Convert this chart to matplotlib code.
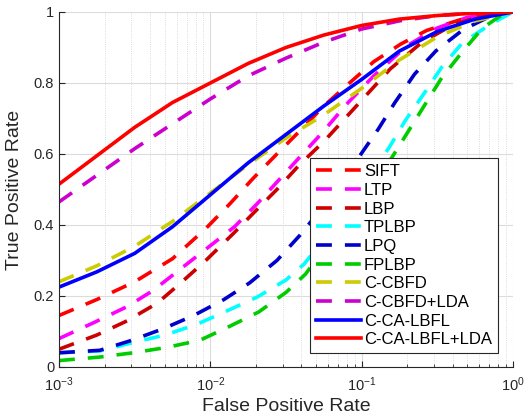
import numpy as np
import matplotlib
matplotlib.use('Agg')
import matplotlib.pyplot as plt

plt.rcParams['font.family'] = ['Liberation Sans', 'DejaVu Sans']
plt.rcParams['mathtext.fontset'] = 'custom'
plt.rcParams['mathtext.rm'] = 'Liberation Sans'

# ROC curves: log10(FPR) -> TPR
sift_x = [-3, -2.75, -2.5, -2.25, -2.03, -1.87, -1.72, -1.56, -1.42, -1.25, -1.08, -0.92, -0.74, -0.57, -0.35, -0.15, 0]
sift_y = [0.145, 0.19, 0.24, 0.305, 0.39, 0.46, 0.53, 0.60, 0.66, 0.735, 0.80, 0.86, 0.91, 0.948, 0.978, 0.995, 1.0]

ltp_x = [-3, -2.77, -2.55, -2.38, -2.2, -2.02, -1.84, -1.69, -1.54, -1.39, -1.26, -1.1, -0.92, -0.7, -0.5, -0.3, 0]
ltp_y = [0.08, 0.125, 0.17, 0.215, 0.275, 0.335, 0.395, 0.46, 0.53, 0.60, 0.66, 0.74, 0.82, 0.905, 0.955, 0.985, 1.0]

lbp_x = [-3, -2.75, -2.55, -2.35, -2.2, -2.03, -1.85, -1.7, -1.56, -1.41, -1.25, -1.11, -0.96, -0.81, -0.6, -0.4, -0.2, 0]
lbp_y = [0.05, 0.09, 0.13, 0.18, 0.235, 0.30, 0.375, 0.44, 0.50, 0.57, 0.635, 0.70, 0.77, 0.84, 0.915, 0.963, 0.99, 1.0]

tplbp_x = [-3, -2.73, -2.52, -2.3, -2.09, -1.89, -1.69, -1.5, -1.38, -1.1, -0.82, -0.71, -0.58, -0.47, -0.33, -0.13, 0]
tplbp_y = [0.04, 0.045, 0.068, 0.09, 0.12, 0.158, 0.197, 0.245, 0.29, 0.44, 0.617, 0.695, 0.775, 0.845, 0.915, 0.97, 1.0]

lpq_x = [-3, -2.73, -2.52, -2.31, -2.11, -1.91, -1.74, -1.56, -1.41, -1.2, -1.02, -0.89, -0.78, -0.65, -0.51, -0.33, -0.14, 0]
lpq_y = [0.04, 0.047, 0.075, 0.108, 0.145, 0.19, 0.237, 0.30, 0.37, 0.48, 0.59, 0.67, 0.745, 0.825, 0.89, 0.95, 0.99, 1.0]

fplbp_x = [-3, -2.73, -2.51, -2.29, -2.07, -1.87, -1.68, -1.5, -1.37, -1.1, -0.8, -0.69, -0.58, -0.47, -0.33, -0.2, -0.08, 0]
fplbp_y = [0.018, 0.028, 0.04, 0.055, 0.075, 0.115, 0.155, 0.21, 0.262, 0.42, 0.59, 0.665, 0.74, 0.815, 0.89, 0.955, 0.99, 1.0]

ccbfd_x = [-3, -2.75, -2.5, -2.25, -2, -1.75, -1.5, -1.25, -1, -0.75, -0.5, -0.25, 0]
ccbfd_y = [0.24, 0.285, 0.34, 0.41, 0.49, 0.57, 0.645, 0.71, 0.785, 0.865, 0.93, 0.975, 1.0]

ccbfd_lda_x = [-3, -2.75, -2.5, -2.25, -2, -1.75, -1.5, -1.25, -1, -0.75, -0.5, -0.25, 0]
ccbfd_lda_y = [0.465, 0.54, 0.615, 0.685, 0.755, 0.82, 0.87, 0.915, 0.952, 0.975, 0.99, 0.997, 1.0]

lbfl_x = [-3, -2.75, -2.5, -2.25, -2, -1.75, -1.5, -1.25, -1, -0.75, -0.5, -0.25, 0]
lbfl_y = [0.225, 0.268, 0.32, 0.395, 0.485, 0.575, 0.655, 0.735, 0.81, 0.89, 0.945, 0.98, 1.0]

lbfl_lda_x = [-3, -2.75, -2.5, -2.25, -2, -1.75, -1.5, -1.25, -1, -0.75, -0.5, -0.25, 0]
lbfl_lda_y = [0.515, 0.595, 0.675, 0.745, 0.80, 0.855, 0.90, 0.935, 0.962, 0.98, 0.99, 0.997, 1.0]

series = [
    ('SIFT', sift_x, sift_y, '#ff0000', '--'),
    ('LTP', ltp_x, ltp_y, '#ff00ff', '--'),
    ('LBP', lbp_x, lbp_y, '#cc0000', '--'),
    ('TPLBP', tplbp_x, tplbp_y, '#00ffff', '--'),
    ('LPQ', lpq_x, lpq_y, '#0000cc', '--'),
    ('FPLBP', fplbp_x, fplbp_y, '#00cc00', '--'),
    ('C-CBFD', ccbfd_x, ccbfd_y, '#cccc00', '--'),
    ('C-CBFD+LDA', ccbfd_lda_x, ccbfd_lda_y, '#cc00cc', '--'),
    ('C-CA-LBFL', lbfl_x, lbfl_y, '#0000ff', '-'),
    ('C-CA-LBFL+LDA', lbfl_lda_x, lbfl_lda_y, '#ff0000', '-'),
]

fig = plt.figure(figsize=(5.25, 4.15), dpi=100)
ax = fig.add_axes([0.1124, 0.1157, 0.8646, 0.8554])

for name, xs, ys, col, ls in series:
    line, = ax.plot(10 ** np.array(xs), ys, color=col, linestyle=ls, lw=2.6,
                    label=name, solid_joinstyle='round')
    if ls == '--':
        line.set_dashes((4.4, 3.6))

ax.set_xscale('log')
ax.set_xlim(1e-3, 1)
ax.set_ylim(0, 1)
ax.set_yticks([0, 0.2, 0.4, 0.6, 0.8, 1])
ax.set_yticklabels(['0', '0.2', '0.4', '0.6', '0.8', '1'])
ax.grid(True, which='major', color='#dcdcdc', lw=0.8)
ax.grid(True, which='minor', axis='x', color='#cfcfcf', lw=0.6, linestyle=':')
ax.set_axisbelow(True)
ax.tick_params(which='both', direction='in', labelsize=10.5, colors='#262626')
ax.tick_params(which='major', length=4)
ax.tick_params(which='minor', length=2)
ax.tick_params(axis='x', which='major', pad=6)
ax.tick_params(top=False, right=False, which='both')
for s in ['top', 'right']:
    ax.spines[s].set_visible(False)
for s in ['left', 'bottom']:
    ax.spines[s].set_color('#262626')

ax.set_xlabel('False Positive Rate', fontsize=14, color='#262626', labelpad=3)
ax.set_ylabel('True Positive Rate', fontsize=14, color='#262626', labelpad=8)

leg = ax.legend(loc='lower right', bbox_to_anchor=(0.967, 0.039), fontsize=12, handlelength=2.7,
                handletextpad=0.2, labelspacing=0.22, borderpad=0.35, fancybox=False,
                framealpha=1, edgecolor='#262626', borderaxespad=0)
leg.get_frame().set_linewidth(0.8)

plt.savefig('out.png', dpi=100)
